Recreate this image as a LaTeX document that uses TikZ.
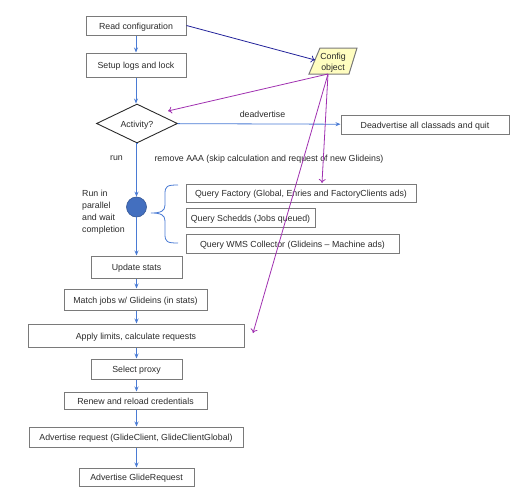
\documentclass[tikz,border=0pt]{standalone}
\usepackage{fontspec}
\setmainfont{Liberation Sans}
\usetikzlibrary{arrows.meta,shapes.geometric}
\definecolor{flowblue}{HTML}{4A7BD4}
\definecolor{navyarrow}{HTML}{22229A}
\definecolor{purplearrow}{HTML}{A030B0}
\definecolor{boxgray}{HTML}{7A7A7A}
\definecolor{cfgfill}{HTML}{FFFDC0}
\definecolor{txtcol}{HTML}{2A2A2A}
\begin{document}
\begin{tikzpicture}[x=1pt,y=-1pt,
  every node/.style={font=\fontsize{8.8}{12}\selectfont, text=txtcol, inner sep=0pt},
  box/.style={draw=boxgray, line width=1pt, minimum width=#1, rectangle, text height=9.8pt, text depth=1.9pt},
  flow/.style={draw=flowblue, line width=0.8pt, -{Stealth[length=5pt,width=4pt]}},
  cfgarrow/.style={draw=purplearrow, line width=0.8pt, -{To[length=4pt,width=7pt]}},
  navy/.style={draw=navyarrow, line width=0.8pt, -{To[length=4pt,width=7pt]}},
  lbl/.style={}]
\useasboundingbox (0,0) rectangle (523,498);
% main column
\node[box=100pt, minimum height=19pt] (read) at (136,25.5) {Read configuration};
\node[box=100pt, minimum height=24pt] (setup) at (136,65) {Setup logs and lock};
\node[diamond, draw=txtcol, line width=0.9pt, aspect=2.08, minimum width=81pt, minimum height=39pt, inner sep=0pt, text height=9.8pt, text depth=1.9pt] (act) at (137,123.5) {Activity?};
\node[box=168pt, minimum height=19pt] (deadv) at (425,124.5) {Deadvertise all classads and quit};
\node[circle, fill=flowblue!90!black, draw=flowblue!70!black, line width=0.6pt, minimum size=20pt] (par) at (136.5,207) {};
\node[box=91pt, minimum height=22pt] (upd) at (136.5,267) {Update stats};
\node[box=143pt, minimum height=21pt] (match) at (135.5,299.5) {Match jobs w/ Glideins (in stats)};
\node[box=216pt, minimum height=23pt] (apply) at (136,335.5) {Apply limits, calculate requests};
\node[box=91pt, minimum height=20pt] (proxy) at (136.5,369) {Select proxy};
\node[box=143pt, minimum height=17pt] (renew) at (135.5,400.5) {Renew and reload credentials};
\node[box=214pt, minimum height=20pt] (advreq) at (136,437) {Advertise request (GlideClient, GlideClientGlobal)};
\node[box=115pt, minimum height=18pt] (advgl) at (136.5,477) {Advertise GlideRequest};
% queries
\node[box=230pt, minimum height=18pt] (qf) at (301,193) {Query Factory (Global, Enries and FactoryClients ads)};
\node[box=129pt, minimum height=19pt] (qs) at (250.5,217.5) {Query Schedds (Jobs queued)};
\node[box=213pt, minimum height=19pt] (qw) at (292.5,243.5) {Query WMS Collector (Glideins -- Machine ads)};
% config object
\fill[cfgfill] (320,48) -- (357,48) -- (349,74) -- (309,74) -- cycle;
\draw[boxgray, line width=1pt] (320,48) -- (357,48) -- (349,74) -- (309,74) -- cycle;
\node[align=center, font=\fontsize{8.8}{11}\selectfont] (cfg) at (333,62.5) {Config\\object};
\coordinate (cfgin) at (315,60);
\coordinate (cfgout) at (328,74);
\coordinate (actin) at (168,111);
\coordinate (qfin) at (322,183);
\coordinate (applyin) at (253,333);
% labels
\node (lbldeadv) at (262.5,114.5) {deadvertise};
\node (lblrun) at (116.5,158.5) {run};
\node (lblremove) at (269,159.5) {remove AAA (skip calculation and request of new Glideins)};
\node[align=left, anchor=north west, font=\fontsize{8.8}{12.2}\selectfont] (lblpar) at (82,189.5) {Run in\\parallel\\and wait\\completion};
% brace
\draw[flowblue, line width=0.8pt] (178,185) .. controls (167,185) and (165,186) .. (165,194) -- (165,205) .. controls (165,211) and (161,213) .. (151,213) .. controls (161,213) and (165,215) .. (165,221) -- (165,234) .. controls (165,242) and (167,243) .. (178,243);
% flow arrows
\draw[flow] (read) -- (setup);
\draw[flow] (setup.south) -- (setup.south |- act.north);
\draw[flow] (act) -- (deadv);
\draw[flow] (act.south) -- (act.south -| par.north) -- (par.north);
\draw[flow] (par) -- (upd);
\draw[flow] (upd) -- (match.north -| upd.south);
\draw[flow] (match.south -| upd.south) -- (apply.north -| upd.south);
\draw[flow] (apply.south -| upd.south) -- (proxy);
\draw[flow] (proxy) -- (renew.north -| proxy.south);
\draw[flow] (renew.south -| proxy.south) -- (advreq.north -| proxy.south);
\draw[flow] (advreq.south -| proxy.south) -- (advgl);
% config arrows
\draw[navy] (read.east) -- (cfgin);
\draw[cfgarrow] (cfgout) -- (actin);
\draw[cfgarrow] (cfgout) -- (qfin);
\draw[cfgarrow] (cfgout) -- (applyin);
\end{tikzpicture}
\end{document}
